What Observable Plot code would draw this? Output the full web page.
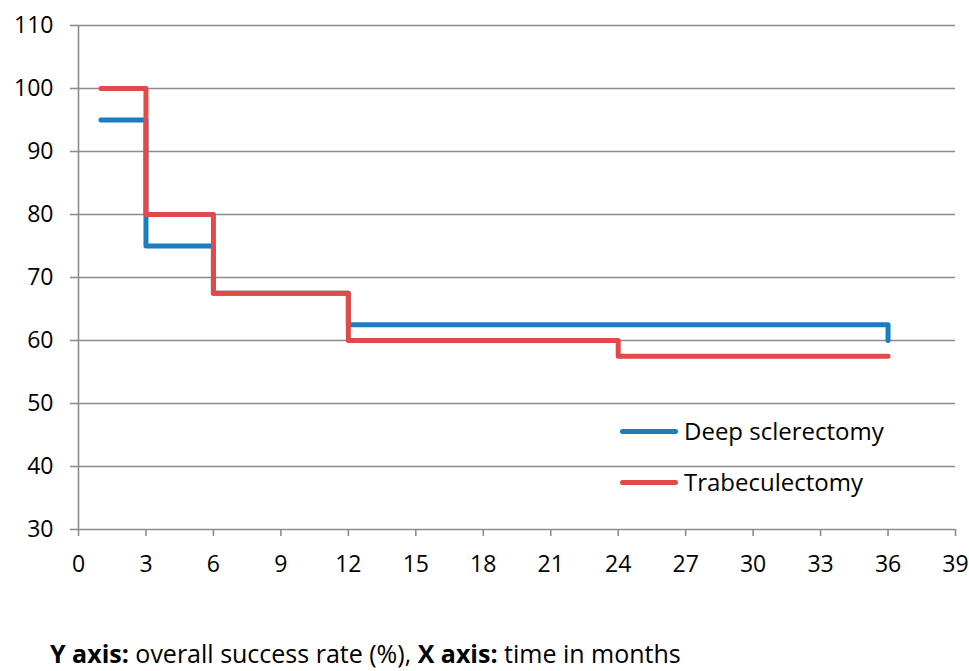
<!DOCTYPE html>
<html>
<head>
<meta charset="utf-8">
<script src="https://cdn.jsdelivr.net/npm/d3@7"></script>
<script src="https://cdn.jsdelivr.net/npm/@observablehq/plot@0.6"></script>
<style>
  html, body { margin: 0; padding: 0; background: #fff; }
  body { width: 969px; height: 671px; position: relative; overflow: hidden; font-family: "Open Sans", sans-serif; }
  #chart { position: absolute; left: 0; top: 0; }
  #chart svg text { font-size: 23px; font-family: "Open Sans", sans-serif; }
  .legend { position: absolute; left: 620px; font-size: 24px; line-height: 30px; color: #000; display: flex; align-items: center; }
  .legend .sw { width: 58px; height: 5px; border-radius: 3px; margin-right: 6px; }
  #caption { position: absolute; left: 50px; top: 636px; font-size: 25px; line-height: 34px; color: #000; white-space: nowrap; }
</style>
</head>
<body>
<div id="chart"></div>
<div class="legend" style="top:416px"><div class="sw" style="background:#1a7dc0"></div>Deep sclerectomy</div>
<div class="legend" style="top:467px"><div class="sw" style="background:#e04b4a"></div>Trabeculectomy</div>
<div id="caption"><b>Y axis:</b> overall success rate (%), <b>X axis:</b> time in months</div>
<script>
const series = ["Deep sclerectomy", "Trabeculectomy"];
const colors = ["#1a7dc0", "#e04b4a"];
// step points (step-after): value holds from this month until the next point
const deepMonths = [1, 3, 6, 12, 36];
const deepValues = [95, 75, 67.5, 62.5, 60];
const trabMonths = [1, 3, 6, 12, 24, 36];
const trabValues = [100, 80, 67.5, 60, 57.5, 57.5];
const xTicks = d3.range(0, 40, 3);
const yTicks = d3.range(30, 111, 10);

const deep = deepMonths.map((m, i) => ({month: m, value: deepValues[i], series: series[0]}));
const trab = trabMonths.map((m, i) => ({month: m, value: trabValues[i], series: series[1]}));

const grid = "#8c8c8c";
const chart = Plot.plot({
  width: 969,
  height: 600,
  marginLeft: 78,
  marginRight: 14,
  marginTop: 25,
  marginBottom: 71,
  style: {fontFamily: "Open Sans, sans-serif", fontSize: "23px", color: "#000", background: "#fff"},
  x: {domain: [0, 39], ticks: xTicks},
  y: {domain: [30, 110], ticks: yTicks},
  marks: [
    Plot.gridY(yTicks, {stroke: grid, strokeOpacity: 1, strokeWidth: 1.6}),
    Plot.ruleX([0], {stroke: grid, strokeWidth: 1.6}),
    Plot.axisY(yTicks, {tickSize: 8, tickPadding: 17, stroke: grid, strokeWidth: 1.6, fill: "#000", label: null}),
    Plot.axisX(xTicks, {tickSize: 7, tickPadding: 19, stroke: grid, strokeWidth: 1.6, fill: "#000", label: null}),
    Plot.line(deep, {x: "month", y: "value", curve: "step-after", stroke: colors[0], strokeWidth: 5, strokeLinecap: "round", strokeLinejoin: "round"}),
    Plot.line(trab, {x: "month", y: "value", curve: "step-after", stroke: colors[1], strokeWidth: 5, strokeLinecap: "round", strokeLinejoin: "round"})
  ]
});
document.getElementById("chart").appendChild(chart);
</script>
</body>
</html>
